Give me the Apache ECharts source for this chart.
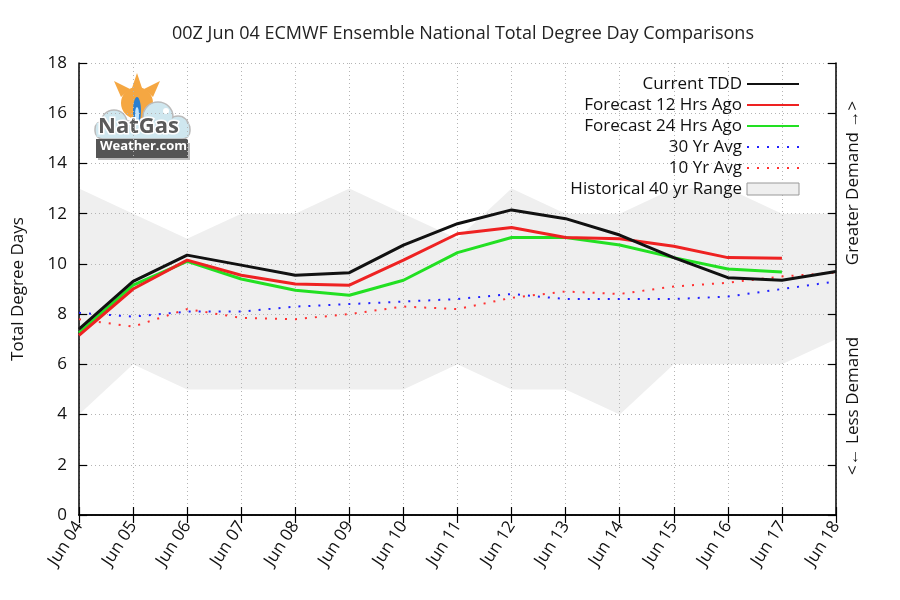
<!DOCTYPE html>
<html>
<head>
<meta charset="utf-8">
<title>ECMWF Ensemble Total Degree Day Comparisons</title>
<script src="https://cdn.jsdelivr.net/npm/echarts@6/dist/echarts.min.js"></script>
<style>
  html, body { margin: 0; padding: 0; background: #fff; }
  #chart { width: 900px; height: 600px; }
</style>
</head>
<body>
<div id="chart"></div>
<script>
  // x categories
  const days = ['Jun 04', 'Jun 05', 'Jun 06', 'Jun 07', 'Jun 08', 'Jun 09', 'Jun 10', 'Jun 11',
                'Jun 12', 'Jun 13', 'Jun 14', 'Jun 15', 'Jun 16', 'Jun 17', 'Jun 18'];

  // values
  const currentTDD = [7.4, 9.3, 10.35, 9.95, 9.55, 9.65, 10.75, 11.6, 12.15, 11.8, 11.15, 10.25, 9.45, 9.35, 9.7];
  const fcst12 = [7.15, 9.0, 10.15, 9.55, 9.2, 9.15, 10.15, 11.2, 11.45, 11.05, 11.0, 10.7, 10.25, 10.22];
  const fcst24 = [7.25, 9.15, 10.1, 9.4, 8.95, 8.75, 9.35, 10.45, 11.05, 11.05, 10.75, 10.25, 9.8, 9.68];
  const avg30 = [8.05, 7.9, 8.1, 8.1, 8.3, 8.4, 8.5, 8.6, 8.8, 8.6, 8.6, 8.6, 8.7, 9.0, 9.3];
  const avg10 = [7.8, 7.5, 8.2, 7.85, 7.8, 8.0, 8.3, 8.2, 8.65, 8.9, 8.8, 9.1, 9.25, 9.5, 9.65];
  const rangeLow = [4, 6, 5, 5, 5, 5, 5, 6, 5, 5, 4, 6, 6, 6, 7];
  const rangeHigh = [13, 12, 11, 12, 12, 13, 12, 11, 13, 12, 12, 13, 13, 12, 12];

  const font = 'Open Sans, Noto Sans, sans-serif';
  const fs = 17;
  const chart = echarts.init(document.getElementById('chart'));

  // stacked band: lower edge + width
  const rangeSpan = rangeHigh.map((h, i) => h - rangeLow[i]);

  const gridDots = { show: true, lineStyle: { color: '#b4b4b4', type: [1, 3], width: 1 } };
  const tickStyle = { inside: true, length: 8, lineStyle: { color: '#000', width: 1.2 } };
  const borderLine = { show: true, lineStyle: { color: '#000', width: 1.5 } };

  const option = {
    backgroundColor: '#fff',
    animation: false,
    textStyle: { fontFamily: font },
    title: {
      text: '00Z Jun 04 ECMWF Ensemble National Total Degree Day Comparisons',
      left: 458,
      top: 20,
      textAlign: 'center',
      textStyle: { fontSize: 18, fontWeight: 'normal', color: '#222', fontFamily: font }
    },
    legend: {
      orient: 'vertical',
      right: 100,
      top: 75,
      padding: 0,
      align: 'right',
      itemWidth: 52,
      itemHeight: 12,
      itemGap: 3,
      itemStyle: { opacity: 0 },
      textStyle: { fontSize: fs, color: '#111', fontFamily: font, lineHeight: 18 },
      data: [
        'Current TDD',
        'Forecast 12 Hrs Ago',
        'Forecast 24 Hrs Ago',
        '30 Yr Avg',
        '10 Yr Avg',
        { name: 'Historical 40 yr Range', icon: 'rect',
          itemStyle: { color: '#efefef', borderColor: '#999', borderWidth: 1, opacity: 1 } }
      ]
    },
    grid: { left: 79, right: 64, top: 63, bottom: 85 },
    xAxis: [
      {
        type: 'category',
        data: days,
        boundaryGap: false,
        z: 3,
        axisLine: borderLine,
        axisTick: tickStyle,
        axisLabel: { rotate: 57, fontSize: fs, color: '#111', margin: 8, fontFamily: font },
        splitLine: gridDots
      },
      {
        type: 'category',
        data: days,
        boundaryGap: false,
        position: 'top',
        z: 3,
        axisLine: borderLine,
        axisTick: tickStyle,
        axisLabel: { show: false },
        splitLine: { show: false }
      }
    ],
    yAxis: [
      {
        type: 'value',
        min: 0,
        max: 18,
        interval: 2,
        z: 3,
        name: 'Total Degree Days',
        nameLocation: 'middle',
        nameGap: 52,
        nameTextStyle: { fontSize: fs, color: '#111', fontFamily: font },
        axisLine: borderLine,
        axisTick: Object.assign({ show: true }, tickStyle),
        axisLabel: { fontSize: fs, color: '#111', margin: 12, fontFamily: font },
        splitLine: gridDots
      },
      {
        type: 'value',
        min: 0,
        max: 18,
        interval: 2,
        position: 'right',
        z: 3,
        axisLine: borderLine,
        axisTick: Object.assign({ show: true }, tickStyle),
        axisLabel: { show: false },
        splitLine: { show: false }
      }
    ],
    series: [
      {
        name: 'rangeBase',
        type: 'line',
        stack: 'band',
        data: rangeLow,
        symbol: 'none',
        silent: true,
        z: 1,
        lineStyle: { opacity: 0 }
      },
      {
        name: 'Historical 40 yr Range',
        type: 'line',
        stack: 'band',
        data: rangeSpan,
        symbol: 'none',
        z: 1,
        itemStyle: { color: '#efefef' },
        lineStyle: { opacity: 0 },
        areaStyle: { color: '#efefef', opacity: 1 }
      },
      {
        name: '30 Yr Avg',
        type: 'line',
        data: avg30,
        symbol: 'none',
        z: 5,
        itemStyle: { color: '#2020ff' },
        lineStyle: { color: '#2020ff', width: 2, type: [2, 8] }
      },
      {
        name: '10 Yr Avg',
        type: 'line',
        data: avg10,
        symbol: 'none',
        z: 5,
        itemStyle: { color: '#ff3030' },
        lineStyle: { color: '#ff3030', width: 2, type: [2, 8] }
      },
      {
        name: 'Forecast 24 Hrs Ago',
        type: 'line',
        data: fcst24,
        symbol: 'none',
        z: 6,
        itemStyle: { color: '#22e022' },
        lineStyle: { color: '#22e022', width: 3 }
      },
      {
        name: 'Forecast 12 Hrs Ago',
        type: 'line',
        data: fcst12,
        symbol: 'none',
        z: 7,
        itemStyle: { color: '#ee2222' },
        lineStyle: { color: '#ee2222', width: 3 }
      },
      {
        name: 'Current TDD',
        type: 'line',
        data: currentTDD,
        symbol: 'none',
        z: 8,
        itemStyle: { color: '#111' },
        lineStyle: { color: '#111', width: 3 }
      }
    ],
    graphic: [
      // right side captions, rotated to read top to bottom
      {
        type: 'text',
        x: 853,
        y: 183,
        rotation: Math.PI / 2,
        style: { text: 'Greater Demand →>', font: fs + 'px ' + font, fill: '#111', align: 'center', verticalAlign: 'middle' }
      },
      {
        type: 'text',
        x: 853,
        y: 406,
        rotation: Math.PI / 2,
        style: { text: '<← Less Demand', font: fs + 'px ' + font, fill: '#111', align: 'center', verticalAlign: 'middle' }
      },
      // NatGasWeather logo
      {
        type: 'group',
        x: 94,
        y: 73,
        children: [
          { type: 'polygon', shape: { points: [[43, 0], [37, 18], [49, 18]] }, style: { fill: '#f5a742' } },
          { type: 'polygon', shape: { points: [[20, 8], [27, 24], [36, 16]] }, style: { fill: '#f5a742' } },
          { type: 'polygon', shape: { points: [[66, 8], [50, 16], [59, 24]] }, style: { fill: '#f5a742' } },
          { type: 'circle', shape: { cx: 43, cy: 30, r: 16 }, style: { fill: '#f5a742' } },
          { type: 'circle', shape: { cx: 20, cy: 50, r: 13 }, style: { fill: '#cfe7ef', stroke: '#bbb', lineWidth: 1.5 } },
          { type: 'circle', shape: { cx: 64, cy: 44, r: 15 }, style: { fill: '#cfe7ef', stroke: '#bbb', lineWidth: 1.5 } },
          { type: 'circle', shape: { cx: 84, cy: 54, r: 11 }, style: { fill: '#cfe7ef', stroke: '#bbb', lineWidth: 1.5 } },
          { type: 'rect', shape: { x: 1, y: 48, width: 95, height: 18, r: 8 }, style: { fill: '#cfe7ef', stroke: '#bbb', lineWidth: 1.5 } },
          { type: 'circle', shape: { cx: 20, cy: 50, r: 12 }, style: { fill: '#cfe7ef' } },
          { type: 'circle', shape: { cx: 64, cy: 44, r: 14 }, style: { fill: '#cfe7ef' } },
          { type: 'circle', shape: { cx: 84, cy: 54, r: 10 }, style: { fill: '#cfe7ef' } },
          { type: 'rect', shape: { x: 2.5, y: 50, width: 92, height: 14 }, style: { fill: '#cfe7ef' } },
          { type: 'circle', shape: { cx: 72, cy: 38, r: 3 }, style: { fill: '#fff' } },
          { type: 'circle', shape: { cx: 78, cy: 50, r: 3 }, style: { fill: '#fff' } },
          { type: 'ellipse', shape: { cx: 43, cy: 38, rx: 4, ry: 14 }, style: { fill: '#2a7fd0' } },
          { type: 'ellipse', shape: { cx: 43, cy: 42, rx: 2, ry: 8 }, style: { fill: '#bfe4ff' } },
          { type: 'text', x: 4, y: 43, style: { text: 'NatGas', font: 'bold 22px ' + font, fill: '#5a5a5a', stroke: '#fff', lineWidth: 3 } },
          { type: 'rect', shape: { x: 4, y: 70, width: 92, height: 17 }, style: { fill: '#bbb' } },
          { type: 'rect', shape: { x: 2, y: 66, width: 92, height: 19 }, style: { fill: '#555' } },
          { type: 'text', x: 6, y: 67, style: { text: 'Weather.com', font: 'bold 13px ' + font, fill: '#fff' } }
        ]
      }
    ]
  };

  chart.setOption(option);
</script>
</body>
</html>
